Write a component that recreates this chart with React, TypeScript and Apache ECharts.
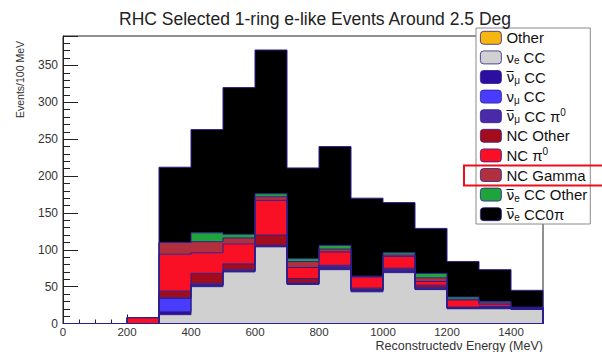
import React, { useEffect, useRef } from 'react';
import * as echarts from 'echarts';

// 100 MeV bins from 0 to 1500 MeV
const binLabels = ['0', '100', '200', '300', '400', '500', '600', '700', '800', '900', '1000', '1100', '1200', '1300', '1400'];
const binWidth = 100;

// stacked components, bottom to top
const otherVals = [0, 0, 0, 0, 0, 0, 0, 0, 0, 0, 0, 0, 0, 0, 0];
const nueCC = [0, 0, 0, 12, 50, 70, 104, 53, 73, 43, 69, 46, 20, 20, 19];
const numubarCC = [0, 0, 0, 4, 2, 1, 1, 1, 2, 2, 2, 1, 1, 1, 1];
const numuCC = [0, 0, 0, 18, 0, 0, 0, 0, 0, 0, 0, 0, 0, 0, 0];
const numubarCCpi0 = [0, 0, 0, 1, 2, 2, 1, 1, 2, 1, 2, 2, 1, 1, 1];
const ncOther = [0, 0, 0, 9, 14, 8, 14, 6, 2, 2, 2, 3, 0, 1, 0];
const ncPi0 = [0, 0, 8, 50, 28, 27, 47, 15, 18, 15, 16, 5, 10, 3, 0.5];
const ncGamma = [0, 0, 0, 16, 15, 8, 5, 8, 4, 1, 2, 5, 1, 2, 0.5];
const nuebarCCOther = [0, 0, 0, 0, 12, 5, 4, 4, 5, 0, 3, 6, 3, 2, 0];
const nuebarCC0pi = [0, 0, 0, 102, 140, 199, 195, 123, 134, 106, 68, 61, 48, 43, 23];

const yTicks = [0, 50, 100, 150, 200, 250, 300, 350];
const xTicks = [0, 200, 400, 600, 800, 1000, 1200, 1400];

const FONT = 'Liberation Sans, Arial, Helvetica, sans-serif';
const OUTLINE = '#2c1f8c';

const layers = [
  { key: 'Other', label: 'Other', color: '#f6b60f', data: otherVals },
  { key: 'nueCC', label: '{g|ν}{s|e} CC', color: '#d0d0d0', data: nueCC },
  { key: 'numubarCC', label: '{o|ν\u0305}{s|μ} CC', color: '#2c0fa0', data: numubarCC },
  { key: 'numuCC', label: '{g|ν}{s|μ} CC', color: '#4a3cff', data: numuCC },
  { key: 'numubarCCpi0', label: '{o|ν\u0305}{s|μ} CC {g|π}{p|0}', color: '#4b2aa8', data: numubarCCpi0 },
  { key: 'ncOther', label: 'NC Other', color: '#a30c1c', data: ncOther },
  { key: 'ncPi0', label: 'NC {g|π}{p|0}', color: '#fa1024', data: ncPi0 },
  { key: 'ncGamma', label: 'NC Gamma', color: '#b0303e', data: ncGamma },
  { key: 'nuebarCCOther', label: '{o|ν\u0305}{s|e} CC Other', color: '#1ea43a', data: nuebarCCOther },
  { key: 'nuebarCC0pi', label: '{o|ν\u0305}{s|e} CC0{g|π}', color: '#000000', data: nuebarCC0pi },
];

export default function App() {
  const ref = useRef<HTMLDivElement>(null);
  useEffect(() => {
    const chart = echarts.init(ref.current!, null, { renderer: 'svg' });
    const labelMap: Record<string, string> = {};
    layers.forEach((l) => (labelMap[l.key] = l.label));

    // cumulative tops of each stacked layer -> histogram-style step outlines
    const cum = binLabels.map(() => 0);
    const outlineSeries = layers.map((l) => {
      l.data.forEach((v, i) => (cum[i] += v));
      const pts: number[][] = cum.map((c, i) => [i * binWidth, c]);
      const n = cum.length;
      pts.push([n * binWidth, cum[n - 1]]);
      pts.push([n * binWidth, 0]);
      return {
        name: 'outline-' + l.key,
        type: 'line',
        xAxisIndex: 1,
        yAxisIndex: 0,
        step: 'end',
        data: pts,
        symbol: 'none',
        silent: true,
        z: 3,
        lineStyle: { color: OUTLINE, width: 1 },
        emphasis: { disabled: true },
      };
    });

    const option: any = {
      animation: false,
      backgroundColor: '#ffffff',
      title: {
        text: 'RHC Selected 1-ring e-like Events Around 2.5 Deg',
        left: 310,
        top: 5,
        textAlign: 'center',
        textStyle: { fontFamily: FONT, fontSize: 17.5, fontWeight: 'normal', color: '#222' },
      },
      grid: {
        left: 63,
        top: 36,
        width: 480,
        height: 287.5,
        show: true,
        borderColor: '#222',
        borderWidth: 1,
        backgroundColor: 'transparent',
      },
      legend: {
        orient: 'vertical',
        left: 476,
        top: 28,
        itemWidth: 21,
        itemHeight: 13,
        itemGap: 0,
        padding: [0, 3, 0, 4],
        backgroundColor: '#ffffff',
        borderColor: '#8a8a8a',
        borderWidth: 1,
        selectedMode: false,
        data: layers.map((l) => l.key),
        formatter: (name: string) => labelMap[name],
        itemStyle: { borderColor: OUTLINE, borderWidth: 0.8 },
        textStyle: {
          fontFamily: FONT,
          fontSize: 15,
          color: '#111',
          lineHeight: 19.6,
          rich: {
            g: { fontFamily: FONT, fontSize: 15, color: '#111' },
            o: { fontFamily: 'DejaVu Sans', fontSize: 14, color: '#111' },
            s: { fontFamily: FONT, fontSize: 10, color: '#111', padding: [7, 0, 0, 0] },
            p: { fontFamily: FONT, fontSize: 10, color: '#111', padding: [0, 0, 7, 0] },
          },
        },
      },
      xAxis: [
        {
          type: 'category',
          data: binLabels,
          boundaryGap: true,
          show: false,
        },
        {
          type: 'value',
          min: 0,
          max: 1500,
          interval: 200,
          position: 'bottom',
          axisLine: { show: true, lineStyle: { color: '#222', width: 1 } },
          axisTick: { show: true, inside: true, length: 9, lineStyle: { color: '#222' } },
          minorTick: { show: true, splitNumber: 4, length: 4, lineStyle: { color: '#222' } },
          splitLine: { show: false },
          axisLabel: {
            margin: 2,
            fontFamily: FONT,
            fontSize: 11.5,
            color: '#333',
            formatter: (v: number) => (xTicks.indexOf(v) >= 0 ? String(v) : ''),
          },
        },
      ],
      yAxis: {
        type: 'value',
        min: 0,
        max: 390,
        interval: 50,
        axisLine: { show: true, lineStyle: { color: '#222' } },
        axisTick: { show: true, inside: true, length: 15, lineStyle: { color: '#222' } },
        minorTick: { show: true, splitNumber: 5, length: 7, lineStyle: { color: '#222' } },
        splitLine: { show: false },
        axisLabel: {
          margin: 5,
          fontFamily: FONT,
          fontSize: 12,
          color: '#333',
          formatter: (v: number) => (yTicks.indexOf(v) >= 0 ? String(v) : ''),
        },
      },
      series: [
        ...layers.map((l) => ({
          name: l.key,
          type: 'bar',
          stack: 'all',
          xAxisIndex: 0,
          yAxisIndex: 0,
          barCategoryGap: '0%',
          barGap: '0%',
          data: l.data,
          itemStyle: { color: l.color, borderWidth: 0 },
          emphasis: { disabled: true },
        })),
        ...outlineSeries,
      ],
      graphic: [
        {
          type: 'text',
          x: 20,
          y: 41,
          rotation: Math.PI / 2,
          style: {
            text: 'Events/100 MeV',
            fontFamily: FONT,
            fontSize: 10.5,
            fill: '#333',
            textAlign: 'right',
            textVerticalAlign: 'middle',
          },
        },
        {
          type: 'text',
          x: 543,
          y: 345.5,
          style: {
            text: 'Reconstructedν Energy (MeV)',
            fontFamily: FONT,
            fontSize: 12.5,
            fill: '#333',
            textAlign: 'right',
            textVerticalAlign: 'middle',
          },
        },
        {
          type: 'rect',
          z: 100,
          shape: { x: 464, y: 165.5, width: 142, height: 20 },
          style: { fill: 'none', stroke: '#e8101a', lineWidth: 2 },
        },
      ],
    };
    chart.setOption(option);
    return () => chart.dispose();
  }, []);
  return <div ref={ref} style={{ position: 'fixed', left: 0, top: 0, width: 602, height: 352 }} />;
}
